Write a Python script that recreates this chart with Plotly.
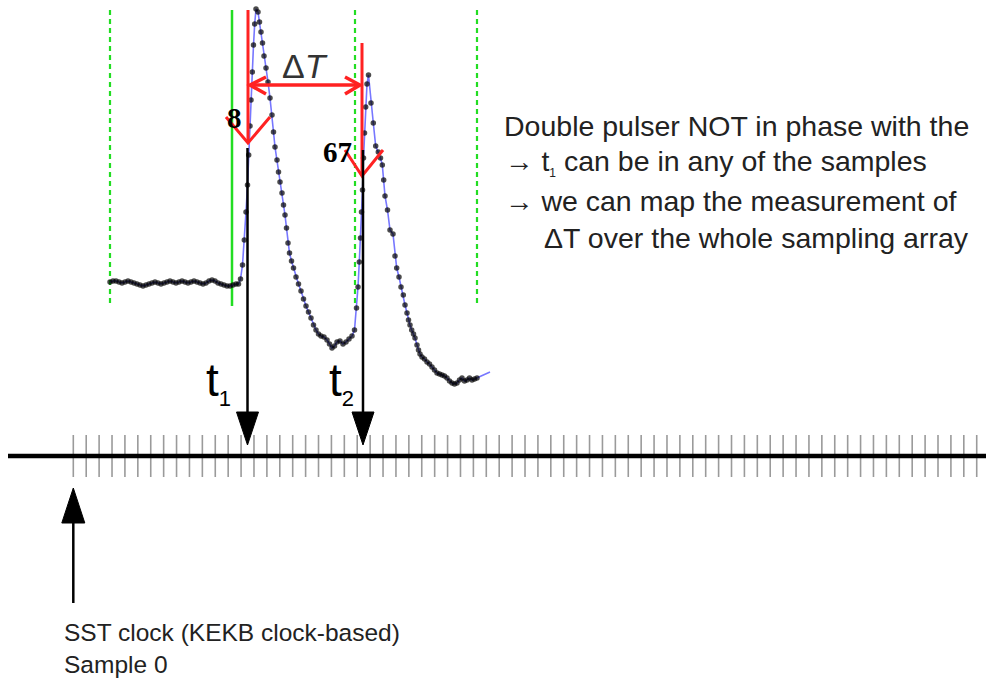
import plotly.graph_objects as go

W, H = 986, 678

# ---- SST clock timeline -------------------------------------------------
clock_samples = list(range(71))          # sample indices along the clock
CLOCK_X0 = 73.3                          # x of sample 0
CLOCK_PITCH = 12.906                     # distance between samples
TIMELINE_Y = 456
TICK_TOP, TICK_BOTTOM = 435, 477

# ---- digitised double pulse (diagram units, y grows downward) -----------
wave_x = [110, 113, 116, 119, 122, 125, 128, 131, 134, 137, 140, 143, 146, 149, 152,
          155, 158, 161, 164, 167, 170, 173, 176, 179, 182, 185, 188, 191, 194, 197,
          200, 203, 206, 209, 212, 215, 218, 221, 224, 227, 230, 233, 236,
          238.5, 240.5, 242.5, 244.3, 246, 247.5, 248.7, 250, 251, 252.3, 253.5, 254.7, 256,
          258, 259.5, 261, 262.5, 264, 266, 268, 270, 272, 273.5, 275, 277, 278.5, 280, 282,
          283.5, 285, 286.5, 288, 289.5, 291.5, 293.5, 296, 298.5, 301, 303.5, 306, 308.5,
          311, 313.5, 316, 318.5, 321, 324, 327, 329.5, 332, 334.5, 337, 340, 343, 346, 349,
          352, 354.5,
          356.5, 358, 359.3, 360.5, 361.5, 362.5, 363.5, 364.5, 365.7, 367, 368.5,
          371, 373.3, 375.7, 378.3, 380.5, 382.3, 383.7, 385, 387.5, 390, 393, 395, 396.7,
          399, 401, 403.3, 405, 407, 408.5, 410, 411.7, 413.5, 415, 417, 418.5, 420, 422,
          424.5, 427, 429.5, 432, 434.5, 437, 439.5, 442, 444.5, 447, 449.5, 452, 454.5,
          457, 459.5, 462, 464.5, 467, 469.5, 472, 474.5, 477,
          490]
wave_y = [282, 281, 281, 282, 283, 282, 281, 282, 283, 284, 285, 286, 285, 284, 283,
          282, 283, 284, 283, 282, 281, 282, 283, 282, 281, 282, 283, 282, 281, 282,
          283, 284, 283, 281, 280, 281, 283, 284, 285, 286, 286, 285, 284,
          284, 279, 265, 240, 212, 185, 155, 126, 100, 72, 45, 24, 9,
          12, 22, 32, 43, 56, 68, 82, 98, 115, 132, 147, 160, 172, 182, 193,
          205, 215, 228, 243, 253, 261, 268, 277, 284, 291, 299, 306, 312,
          318, 325, 330, 334, 336, 337, 340, 344, 348, 346, 342, 341, 344, 342, 339,
          336, 330,
          308, 287, 262, 238, 212, 190, 158, 133, 107, 84, 75,
          103, 123, 146, 152, 158, 165, 180, 196, 210, 230, 234, 256, 268,
          277, 287, 295, 305, 313, 320, 325, 330, 334, 338, 345, 350, 354, 357,
          359, 362, 364, 367, 370, 373, 374, 375, 376, 378, 381, 383, 384,
          383, 380, 378, 381, 380, 378, 380, 379, 378,
          372]
wave_marker = [5.5] * (len(wave_x) - 1) + [0]

# ---- guide lines and timing markers ------------------------------------
GUIDE_TOP, GUIDE_BOTTOM = 10, 306
window_dashed_x = [110, 355, 477]
threshold_x = 232
t1_x, t2_x = 247.5, 363
t1_red_x, t2_red_x = 248, 362
t1_red_top, t2_red_top = 10, 43
t1_red_tip, t2_red_tip = 143, 176
t1_line_top, t2_line_top = 148, 150
ARROW_TIP_Y, ARROW_BASE_Y = 445, 412
dT_y = 85

GREEN = "#22dd22"
RED = "#ff2222"
TEXT = "#222222"
SANS = "Liberation Sans, Arial, sans-serif"
SERIF = "Liberation Serif, Times New Roman, serif"

fig = go.Figure()

# clock ticks
tick_x, tick_y = [], []
for s in clock_samples:
    x = CLOCK_X0 + s * CLOCK_PITCH
    tick_x += [x, x, None]
    tick_y += [TICK_TOP, TICK_BOTTOM, None]
fig.add_trace(go.Scatter(x=tick_x, y=tick_y, mode="lines",
                         line=dict(color="#9a9a9a", width=1.6),
                         hoverinfo="skip", showlegend=False))

# waveform: thin blue polyline with black sample dots
fig.add_trace(go.Scatter(x=wave_x, y=wave_y, mode="lines+markers",
                         line=dict(color="#7777ff", width=1.6),
                         marker=dict(color="black", size=wave_marker, line=dict(width=0)),
                         hoverinfo="skip", showlegend=False))

shapes = []


def seg(x0, y0, x1, y1, color, width, dash=None, layer="above"):
    ln = dict(color=color, width=width)
    if dash:
        ln["dash"] = dash
    shapes.append(dict(type="line", xref="x", yref="y", x0=x0, y0=y0, x1=x1, y1=y1,
                       line=ln, layer=layer))


def open_head(xt, yt, xa, ya, xb, yb, color, width):
    shapes.append(dict(type="path", xref="x", yref="y",
                       path=f"M {xa},{ya} L {xt},{yt} L {xb},{yb}",
                       line=dict(color=color, width=width), layer="above"))


def solid_head(xt, yt, xbase, ybase, half):
    shapes.append(dict(type="path", xref="x", yref="y",
                       path=f"M {xbase - half},{ybase} L {xt},{yt} L {xbase + half},{ybase} Z",
                       fillcolor="black", line=dict(color="black", width=1), layer="above"))


# integration window guides
for gx in window_dashed_x:
    seg(gx, GUIDE_TOP, gx, GUIDE_BOTTOM, GREEN, 2.2, dash="5px,4px", layer="below")
seg(threshold_x, GUIDE_TOP, threshold_x, GUIDE_BOTTOM, GREEN, 2.5, layer="below")

# timing arrows on the pulses
seg(t1_red_x, t1_red_top, t1_red_x, t1_red_tip, RED, 3)
open_head(t1_red_x, t1_red_tip, t1_red_x - 22, t1_red_tip - 26, t1_red_x + 22, t1_red_tip - 26, RED, 3)
seg(t2_red_x, t2_red_top, t2_red_x, t2_red_tip, RED, 3)
open_head(t2_red_x, t2_red_tip, t2_red_x - 17, t2_red_tip - 26, t2_red_x + 21, t2_red_tip - 26, RED, 3)

# delta-T double arrow
seg(t1_red_x + 2, dT_y, t2_red_x - 2, dT_y, RED, 3.5)
open_head(t1_red_x + 2, dT_y, t1_red_x + 18, dT_y - 8, t1_red_x + 18, dT_y + 9, RED, 3.5)
open_head(t2_red_x - 2, dT_y, t2_red_x - 17, dT_y - 8, t2_red_x - 17, dT_y + 9, RED, 3.5)

# projections of t1, t2 onto the clock
seg(t1_x, t1_line_top, t1_x, ARROW_BASE_Y + 2, "black", 2.5)
solid_head(t1_x, ARROW_TIP_Y, t1_x, ARROW_BASE_Y, 11)
seg(t2_x, t2_line_top, t2_x, ARROW_BASE_Y + 2, "black", 2.5)
solid_head(t2_x, ARROW_TIP_Y, t2_x, ARROW_BASE_Y, 11)

# clock axis line
seg(8, TIMELINE_Y, W + 5, TIMELINE_Y, "black", 4.5)

# sample 0 marker
s0_x = CLOCK_X0 + clock_samples[0] * CLOCK_PITCH
seg(s0_x, 603, s0_x, 521, "black", 2.5)
solid_head(s0_x, 488, s0_x, 523, 11.5)

fig.update_layout(shapes=shapes)

ann = []


def text(x, y, s, size, family=SANS, color=TEXT, xanchor="left"):
    ann.append(dict(x=x, y=y, xref="x", yref="y", text=s, showarrow=False,
                    xanchor=xanchor, yanchor="middle",
                    font=dict(family=family, size=size, color=color)))


text(305, 66, "Δ<i>T</i>", 34, color="#333333", xanchor="center")
text(234, 118, "<b>8</b>", 29, family=SERIF, color="black", xanchor="center")
text(337.5, 152, "<b>67</b>", 29, family=SERIF, color="black", xanchor="center")
text(204, 382, "t<sub><span style=\"font-size:22px;color:black\">1</span></sub>", 46, color="black")
text(327, 382, "t<sub><span style=\"font-size:22px;color:black\">2</span></sub>", 46, color="black")

right_lines = [
    "Double pulser NOT in phase with the",
    "→ t<sub><span style=\"font-size:12px;color:#222222\">1</span></sub> can be in any of the samples",
    "→ we can map the measurement of",
    "ΔT over the whole sampling array",
]
right_x = [501.7, 502.7, 502.7, 541.7]
right_y = [126, 162, 201, 238]
for lx, ly, s in zip(right_x, right_y, right_lines):
    text(lx, ly, s, 28.5)

text(62, 632, "SST clock (KEKB clock-based)", 24.5)
text(62, 664.5, "Sample 0", 24.5)

fig.update_layout(
    annotations=ann,
    width=W, height=H,
    margin=dict(l=0, r=0, t=0, b=0),
    paper_bgcolor="white", plot_bgcolor="white",
    xaxis=dict(range=[0, W], visible=False, fixedrange=True),
    yaxis=dict(range=[H, 0], visible=False, fixedrange=True),
    showlegend=False,
)

fig.write_html("out.html")
